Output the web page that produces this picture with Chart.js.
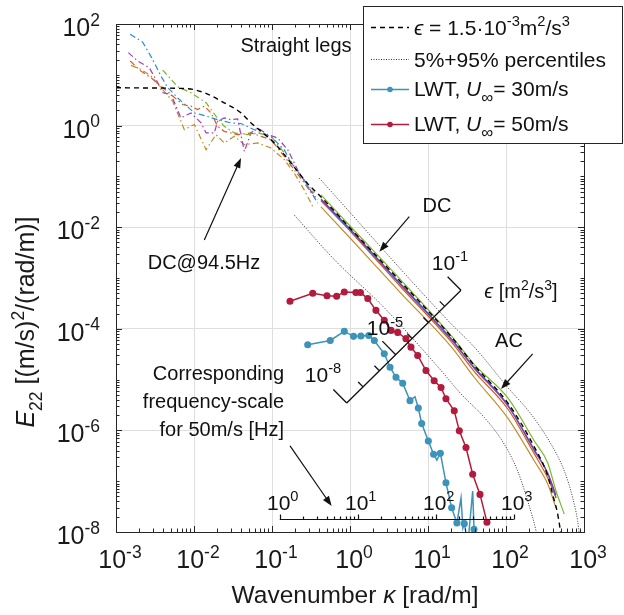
<!DOCTYPE html>
<html>
<head>
<meta charset="utf-8">
<script src="https://cdn.jsdelivr.net/npm/chart.js@4.4.1/dist/chart.umd.min.js"></script>
<style>
  html, body { margin: 0; padding: 0; background: #fff; }
</style>
</head>
<body>
<canvas id="specChart" width="624" height="615"></canvas>
<script>
// --- data: [wavenumber k (rad/m), E22] ---
const modelSpectrum = [[1e-3,5.56],[2.8e-3,5.5],[8.3e-3,5.31],[0.0136,4.43],[0.0244,2.81],[0.0401,1.78],[0.0538,1.13],[0.0723,0.771],[0.107,0.455],[0.175,0.183],[0.287,0.072],[0.425,0.0395],[1.03,9.2e-3],[4.51,8.3e-4],[19.7,7.1e-5],[39.3,1.9e-5],[105,3.5e-6],[231,4.7e-7],[343,1.27e-7],[401,5.1e-8],[451,2.6e-8],[492,1.2e-8],[515,7e-9]];
const pct95 = [[0.403,0.0925],[17.9,1.47e-4],[39.3,4.35e-5],[105,7.05e-6],[209,2.1e-6],[378,5.36e-7],[559,1.59e-7],[716,4.72e-8],[830,1.63e-8],[871,9.1e-9]];
const pct5 = [[0.193,0.0174],[0.63,2.3e-3],[2.75,2.6e-4],[14.7,1.51e-5],[26.5,5.2e-6],[52.7,1.8e-6],[95,5.36e-7],[141,1.59e-7],[190,4.06e-8],[243,1.04e-8],[257,6.6e-9]];

// straight legs, low wavenumbers (dash-dot)
const legsBlue = [[0.00152,63],[0.0022,44],[0.00295,20],[0.00378,9.4],[0.0046,5.6],[0.0062,3.5],[0.0101,1.78],[0.0123,1.65],[0.0201,1.31],[0.0298,1.13],[0.040,1.1],[0.0656,0.77],[0.097,0.61],[0.143,0.336],[0.191,0.155],[0.257,0.086],[0.385,0.0296]];
const legsOrange = [[0.00152,18.7],[0.00209,11.8],[0.00281,8.77],[0.00378,5.98],[0.00507,4.1],[0.00716,2.6],[0.00916,2.41],[0.0111,2.07],[0.0136,2.41],[0.0165,1.78],[0.0201,0.97],[0.0244,0.771],[0.0363,0.664],[0.0538,0.717],[0.0723,0.615],[0.097,0.529],[0.144,0.247],[0.193,0.135],[0.259,0.0748],[0.345,0.0401]];
const legsGreen = [[0.00397,12.4],[0.00618,5.82],[0.00916,4.43],[0.0143,2.81],[0.0191,1.53],[0.0244,0.97],[0.0329,0.717],[0.0488,0.664],[0.0656,0.717],[0.097,0.615],[0.144,0.289],[0.193,0.157],[0.257,0.0857],[0.348,0.0468]];
const legsPurple = [[0.00144,27.3],[0.0019,18.7],[0.00267,13.8],[0.00343,6.98],[0.00397,4.43],[0.00507,4.1],[0.00681,1.42],[0.00916,1.78],[0.0123,1.13],[0.0143,0.717],[0.0182,0.717],[0.0201,1.22],[0.0244,1.42],[0.0298,1.31],[0.0363,1.36],[0.0442,0.31],[0.0538,0.717],[0.0656,0.901],[0.0881,0.664],[0.118,0.571],[0.159,0.336],[0.213,0.135],[0.287,0.0632],[0.385,0.0345]];
const legsBrown = [[0.00156,15.3],[0.00209,12.8],[0.00281,9.42],[0.00378,5.56],[0.00533,3.02],[0.00752,0.834],[0.0101,1.05],[0.0143,0.336],[0.0191,0.664],[0.0244,0.455],[0.0329,0.615],[0.0442,0.421],[0.0656,0.455],[0.097,0.362],[0.144,0.213],[0.193,0.116],[0.259,0.0543],[0.333,0.0254]];

// AC / DC, high wavenumbers (solid)
const solidK = [0.425, 1.03, 4.51, 19.7, 39.3, 105, 231, 343, 438];
const solidGreen = [0.0433, 0.0101, 9.05e-4, 7.4e-5, 1.98e-5, 4.4e-6, 6.2e-7, 2.29e-7, 6.4e-8];
const solidPurple = [0.0361, 8.8e-3, 7.54e-4, 6.46e-5, 1.73e-5, 3.2e-6, 4.14e-7, 1.45e-7, 5.3e-8];
const solidBlue = [0.0345, 8.4e-3, 7.2e-4, 6.2e-5, 1.65e-5, 3.06e-6, 3.95e-7, 1.39e-7, 4.66e-8];
const solidOrange = [0.033, 8.04e-3, 6.58e-4, 5.64e-5, 1.44e-5, 2.67e-6, 3.45e-7, 1.16e-7, 4.8e-8];
const solidBrown = [0.0251, 5.85e-3, 5.0e-4, 4.49e-5, 1.1e-5, 1.77e-6, 2.5e-7, 8.8e-8, 2.95e-8];
const solidGreenTail = [[559, 2.25e-8]];

// LWT wind tunnel spectra
const lwt30 = [[0.287,4.85e-5],[0.558,5.9e-5],[0.845,8.9e-5],[1.11,7.1e-5],[1.38,7.2e-5],[1.74,7.4e-5],[2.05,5.9e-5],[2.75,3.22e-5],[3.26,1.75e-5],[3.89,1.11e-5],[4.74,8.5e-6],[5.88,3.85e-6],[7.51,2.76e-6],[8.3,1.37e-6],[10.1,6.2e-7],[11.8,3.4e-7],[14.4,3.56e-7],[17.0,9.3e-8],[20.1,3.0e-8],[23.5,1.51e-8],[29.2,1.46e-8],[38.9,1.13e-8]];
const lwt30Noise = [[6.81,4.6e-6],[13.0,2.6e-7],[26.5,4.66e-8],[28.0,1.2e-8],[32.5,6e-9],[37.4,6.4e-8],[42.5,5e-9]];
const lwt50 = [[0.170,3.48e-4],[0.333,5.0e-4],[0.507,4.47e-4],[0.674,4.37e-4],[0.845,5.31e-4],[1.19,5.17e-4],[1.36,5.17e-4],[1.69,3.94e-4],[2.15,2.31e-4],[2.75,1.47e-4],[3.36,9.3e-5],[4.09,8.5e-5],[5.22,6.4e-5],[6.05,4.35e-5],[7.38,2.98e-5],[9.42,1.51e-5],[12.0,9.5e-6],[14.7,7.0e-6],[17.0,4.2e-6],[21.7,2.44e-6],[25.2,9.8e-7],[30.7,4.6e-7],[37.4,1.37e-7],[46.4,5.5e-8],[57.0,1.56e-8]];

// tick decades
const xDecades = [-3, -2, -1, 0, 1, 2, 3];
const yDecades = [2, 0, -2, -4, -6, -8];
const freqDecades = [0, 1, 2, 3];
const epsDecades = [-8, -7, -6, -5, -4, -3, -2, -1];
const epsLabelled = [-8, -5, -1];
const freqSpeed = 50; // m/s

const FONT = '"Liberation Sans", Arial, Helvetica, sans-serif';

const xy = (arr) => arr.map(p => ({ x: p[0], y: p[1] }));
const zipK = (vals) => vals.map((v, i) => ({ x: solidK[i], y: v }));

function logTicks(lo, hi, majors) {
  const out = [];
  for (let d = lo; d < hi; d++) {
    for (let m = 1; m <= 9; m++) out.push({ value: m * Math.pow(10, d), major: m === 1 && majors.includes(d) });
  }
  out.push({ value: Math.pow(10, hi), major: majors.includes(hi) });
  return out;
}

// draws text made of plain / italic / superscript / subscript pieces, y is the baseline
function rich(ctx, parts, x, y, size, align) {
  const segs = parts.map(p => {
    const small = p.s === 'sup' || p.s === 'sub';
    const s = small ? size * (p.k || 0.7) : size;
    const font = (p.i ? 'italic ' : '') + s + 'px ' + FONT;
    ctx.font = font;
    return { t: p.t, font, w: ctx.measureText(p.t).width,
      dy: p.s === 'sup' ? -size * 0.42 : p.s === 'sub' ? size * 0.32 : 0 };
  });
  const total = segs.reduce((a, s) => a + s.w, 0);
  let cx = align === 'center' ? x - total / 2 : align === 'right' ? x - total : x;
  ctx.textAlign = 'left';
  ctx.textBaseline = 'alphabetic';
  segs.forEach(s => { ctx.font = s.font; ctx.fillText(s.t, cx, y + s.dy); cx += s.w; });
}

function arrow(ctx, x1, y1, x2, y2) {
  const a = Math.atan2(y2 - y1, x2 - x1);
  const L = 10, W = 3.6;
  ctx.beginPath();
  ctx.moveTo(x1, y1);
  ctx.lineTo(x2 - L * 0.8 * Math.cos(a), y2 - L * 0.8 * Math.sin(a));
  ctx.stroke();
  ctx.beginPath();
  ctx.moveTo(x2, y2);
  ctx.lineTo(x2 - L * Math.cos(a) + W * Math.sin(a), y2 - L * Math.sin(a) - W * Math.cos(a));
  ctx.lineTo(x2 - L * Math.cos(a) - W * Math.sin(a), y2 - L * Math.sin(a) + W * Math.cos(a));
  ctx.closePath();
  ctx.fill();
}

// annotation anchors in log10 data coordinates
const arrows = [
  [[-1.868, -2.253], [-1.397, -0.638]],
  [[0.760, -1.792], [0.376, -2.484]],
  [[2.342, -4.492], [1.936, -5.184]],
  [[-0.769, -6.304], [-0.235, -7.49]]
];
const epsAxis = { from: [-0.042, -5.461], to: [1.423, -3.241] };

const overlay = {
  id: 'overlay',
  afterDatasetsDraw(chart) {
    const ctx = chart.ctx;
    const xs = chart.scales.x, ys = chart.scales.y;
    const a = chart.chartArea;
    const P = (lx, ly) => [xs.getPixelForValue(Math.pow(10, lx)), ys.getPixelForValue(Math.pow(10, ly))];
    ctx.save();
    ctx.strokeStyle = '#262626';
    ctx.fillStyle = '#262626';
    ctx.lineWidth = 1;

    // inner tick marks on all four sides
    ctx.beginPath();
    xs.ticks.forEach(t => {
      const px = Math.round(xs.getPixelForValue(t.value)) + 0.5;
      const len = t.major ? 6 : 3.5;
      ctx.moveTo(px, a.bottom); ctx.lineTo(px, a.bottom - len);
      ctx.moveTo(px, a.top); ctx.lineTo(px, a.top + len);
    });
    ys.ticks.forEach(t => {
      const py = Math.round(ys.getPixelForValue(t.value)) + 0.5;
      const len = t.major ? 6 : 3.5;
      ctx.moveTo(a.left, py); ctx.lineTo(a.left + len, py);
      ctx.moveTo(a.right, py); ctx.lineTo(a.right - len, py);
    });
    ctx.stroke();
    ctx.strokeRect(Math.round(a.left) + 0.5, Math.round(a.top) + 0.5, Math.round(a.right - a.left), Math.round(a.bottom - a.top));

    // tick labels
    ctx.fillStyle = '#1a1a1a';
    xDecades.forEach(d => {
      rich(ctx, [{ t: '10' }, { t: String(d), s: 'sup' }], xs.getPixelForValue(Math.pow(10, d)) + 4, a.bottom + 36, 25, 'center');
    });
    yDecades.forEach(d => {
      rich(ctx, [{ t: '10' }, { t: String(d), s: 'sup' }], a.left - 16, ys.getPixelForValue(Math.pow(10, d)) + 12, 25, 'right');
    });

    // axis titles
    rich(ctx, [{ t: 'Wavenumber ' }, { t: 'κ', i: true }, { t: ' [rad/m]' }], (a.left + a.right) / 2 + 5, a.bottom + 71, 24.5, 'center');
    ctx.save();
    ctx.translate(34, 322);
    ctx.rotate(-Math.PI / 2);
    rich(ctx, [{ t: 'E', i: true }, { t: '22', s: 'sub' }, { t: ' [(m/s)' }, { t: '2', s: 'sup' }, { t: '/(rad/m)]' }], 0, 0, 25, 'center');
    ctx.restore();

    // arrows
    ctx.fillStyle = '#111';
    ctx.strokeStyle = '#111';
    ctx.lineWidth = 1.2;
    arrows.forEach(([p, q]) => {
      const [x1, y1] = P(p[0], p[1]);
      const [x2, y2] = P(q[0], q[1]);
      arrow(ctx, x1, y1, x2, y2);
    });

    // text annotations
    let t;
    t = P(-0.692, 1.581); rich(ctx, [{ t: 'Straight legs' }], t[0], t[1] + 7, 20, 'center');
    t = P(1.115, -1.561); rich(ctx, [{ t: 'DC' }], t[0], t[1] + 7, 20, 'center');
    t = P(-1.872, -2.688); rich(ctx, [{ t: 'DC@94.5Hz' }], t[0], t[1] + 7, 20, 'center');
    t = P(2.038, -4.229); rich(ctx, [{ t: 'AC' }], t[0], t[1] + 7, 20, 'center');
    t = P(-0.846, -4.862);
    ['Corresponding', 'frequency-scale', 'for 50m/s [Hz]'].forEach((s, i) => rich(ctx, [{ t: s }], t[0], t[1] + 7 + i * 28, 20, 'right'));
    t = P(2.192, -3.261);
    rich(ctx, [{ t: 'ϵ ', i: true }, { t: '[m' }, { t: '2', s: 'sup' }, { t: '/s' }, { t: '3', s: 'sup' }, { t: ']' }], t[0], t[1] + 7, 20, 'center');

    // epsilon scale: log axis drawn across the spectra
    const [ex1, ey1] = P(epsAxis.from[0], epsAxis.from[1]);
    const [ex2, ey2] = P(epsAxis.to[0], epsAxis.to[1]);
    const len = Math.hypot(ex2 - ex1, ey2 - ey1);
    const ux = (ex2 - ex1) / len, uy = (ey2 - ey1) / len;
    const nx = uy, ny = -ux; // perpendicular, towards upper-left
    ctx.lineWidth = 1.3;
    ctx.beginPath();
    ctx.moveTo(ex1, ey1); ctx.lineTo(ex2, ey2);
    epsDecades.forEach(d => {
      const f = (d - epsDecades[0]) / (epsDecades[epsDecades.length - 1] - epsDecades[0]);
      const bx = ex1 + f * (ex2 - ex1), by = ey1 + f * (ey2 - ey1);
      const tl = epsLabelled.includes(d) ? 19 : 7;
      ctx.moveTo(bx, by); ctx.lineTo(bx + nx * tl, by + ny * tl);
    });
    ctx.stroke();
    t = P(1.282, -2.648); rich(ctx, [{ t: '10' }, { t: '-1', s: 'sup' }], t[0], t[1] + 10, 21, 'center');
    t = P(0.449, -3.933); rich(ctx, [{ t: '10' }, { t: '-5', s: 'sup' }], t[0], t[1] + 10, 21, 'center');
    t = P(-0.346, -4.842); rich(ctx, [{ t: '10' }, { t: '-8', s: 'sup' }], t[0], t[1] + 10, 21, 'center');

    // frequency scale for 50 m/s: k = 2*pi*f/U
    const kOf = f => 2 * Math.PI * f / freqSpeed;
    const fy = Math.round(ys.getPixelForValue(Math.pow(10, -7.753))) + 0.5;
    const f0 = Math.pow(10, freqDecades[0]), f1 = Math.pow(10, freqDecades[freqDecades.length - 1]);
    ctx.lineWidth = 1.2;
    ctx.beginPath();
    ctx.moveTo(xs.getPixelForValue(kOf(f0)), fy);
    ctx.lineTo(xs.getPixelForValue(kOf(f1)), fy);
    for (let d = freqDecades[0]; d < freqDecades[freqDecades.length - 1]; d++) {
      for (let m = 1; m <= 10; m++) {
        const px = Math.round(xs.getPixelForValue(kOf(m * Math.pow(10, d)))) + 0.5;
        const tl = (m === 1 || m === 10) ? 5 : 3;
        ctx.moveTo(px, fy); ctx.lineTo(px, fy - tl);
      }
    }
    ctx.stroke();
    freqDecades.forEach(d => {
      rich(ctx, [{ t: '10' }, { t: String(d), s: 'sup' }], xs.getPixelForValue(kOf(Math.pow(10, d)))+ 3, fy - 10, 21, 'center');
    });

    // legend box
    const bx = 363.5, by = 6.5, bw = 259, bh = 137;
    ctx.fillStyle = '#fff';
    ctx.fillRect(bx, by, bw, bh);
    ctx.strokeStyle = '#262626';
    ctx.lineWidth = 1;
    ctx.strokeRect(bx, by, bw, bh);
    const sx0 = 371, sx1 = 409, tx = 414;
    ctx.lineWidth = 1.3;
    ctx.strokeStyle = '#000';
    ctx.setLineDash([5, 4]);
    ctx.beginPath(); ctx.moveTo(sx0, 27.5); ctx.lineTo(sx1, 27.5); ctx.stroke();
    ctx.lineWidth = 1;
    ctx.strokeStyle = '#333';
    ctx.setLineDash([1, 1.5]);
    ctx.beginPath(); ctx.moveTo(sx0, 59.5); ctx.lineTo(sx1, 59.5); ctx.stroke();
    ctx.setLineDash([]);
    [[89.5, '#3d93b8'], [124.5, '#b31b3c']].forEach(([yy, c]) => {
      ctx.strokeStyle = c; ctx.fillStyle = c; ctx.lineWidth = 1.5;
      ctx.beginPath(); ctx.moveTo(sx0, yy); ctx.lineTo(sx1, yy); ctx.stroke();
      ctx.beginPath(); ctx.arc((sx0 + sx1) / 2, yy, 2.8, 0, Math.PI * 2); ctx.fill();
    });
    ctx.fillStyle = '#111';
    rich(ctx, [{ t: 'ϵ', i: true }, { t: ' = 1.5·10' }, { t: '-3', s: 'sup' }, { t: 'm' }, { t: '2', s: 'sup' }, { t: '/s' }, { t: '3', s: 'sup' }], tx, 35, 21, 'left');
    rich(ctx, [{ t: '5%+95% percentiles' }], tx, 67, 21, 'left');
    rich(ctx, [{ t: 'LWT, ' }, { t: 'U', i: true }, { t: '∞', s: 'sub', k: 0.8 }, { t: '= 30m/s' }], tx, 96, 21, 'left');
    rich(ctx, [{ t: 'LWT, ' }, { t: 'U', i: true }, { t: '∞', s: 'sub', k: 0.8 }, { t: '= 50m/s' }], tx, 131, 21, 'left');
    ctx.restore();
  }
};

const lwt30Series = lwt30.map(p => ({ x: p[0], y: p[1], mark: true }))
  .concat(lwt30Noise.map(p => ({ x: p[0], y: p[1], mark: false })))
  .sort((p, q) => p.x - q.x);

function line(data, color, opts) {
  return Object.assign({
    data, borderColor: color, backgroundColor: color, borderWidth: 1.2,
    pointRadius: 0, showLine: true, fill: false, tension: 0
  }, opts || {});
}
const dashDot = [6, 3, 1.5, 3];
const smooth = { cubicInterpolationMode: 'monotone' };

const chart = new Chart(document.getElementById('specChart').getContext('2d'), {
  type: 'scatter',
  data: {
    datasets: [
      line(xy(modelSpectrum), '#000', Object.assign({ borderDash: [5, 4], borderWidth: 1.4 }, smooth)),
      line(zipK(solidGreen).concat(xy(solidGreenTail)), '#7cb82f', smooth),
      line(zipK(solidPurple), '#7d3aa8', smooth),
      line(zipK(solidBlue), '#3a6cc0', smooth),
      line(zipK(solidOrange), '#e0561f', smooth),
      line(zipK(solidBrown), '#c28d2c', smooth),
      line(xy(legsBlue), '#2a8ad6', { borderDash: dashDot }),
      line(xy(legsOrange), '#e2571e', { borderDash: dashDot }),
      line(xy(legsGreen), '#79b52c', { borderDash: dashDot }),
      line(xy(legsPurple), '#9b3fc0', { borderDash: dashDot }),
      line(xy(legsBrown), '#c08a25', { borderDash: dashDot }),
      line(xy(pct95), '#333', Object.assign({ borderDash: [1, 1.5], borderWidth: 1 }, smooth)),
      line(xy(pct5), '#333', Object.assign({ borderDash: [1, 1.5], borderWidth: 1 }, smooth)),
      line(lwt30Series, '#3d93b8', { borderWidth: 1.5, pointRadius: c => (c.raw && c.raw.mark ? 2.8 : 0) }),
      line(xy(lwt50), '#b31b3c', { borderWidth: 1.5, pointRadius: 2.8 })
    ]
  },
  options: {
    responsive: false,
    animation: false,
    events: [],
    layout: { padding: { top: 24, right: 40, left: 0, bottom: 0 } },
    plugins: { legend: { display: false }, tooltip: { enabled: false } },
    scales: {
      x: {
        type: 'logarithmic', min: 1e-3, max: 1e3,
        afterBuildTicks: s => { s.ticks = logTicks(-3, 3, xDecades); },
        afterFit: s => { s.height = 83; },
        ticks: { display: false, autoSkip: false },
        border: { display: false },
        grid: { drawTicks: false, color: c => (c.tick && c.tick.major ? '#dedede' : 'rgba(0,0,0,0)') }
      },
      y: {
        type: 'logarithmic', min: 1e-8, max: 1e2,
        afterBuildTicks: s => { s.ticks = logTicks(-8, 2, yDecades); },
        afterFit: s => { s.width = 116; },
        ticks: { display: false, autoSkip: false },
        border: { display: false },
        grid: { drawTicks: false, color: c => (c.tick && c.tick.major ? '#dedede' : 'rgba(0,0,0,0)') }
      }
    }
  },
  plugins: [overlay]
});
</script>
</body>
</html>
